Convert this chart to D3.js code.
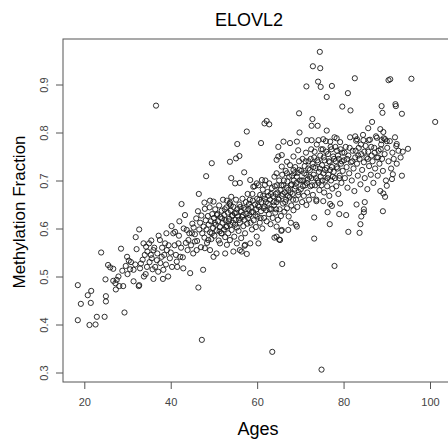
<!DOCTYPE html>
<html>
<head>
<meta charset="utf-8">
<script src="https://cdn.jsdelivr.net/npm/d3@7"></script>
<style>
  body { margin: 0; background: #fff; }
  text { font-family: "Liberation Sans", Arial, Helvetica, sans-serif; }
</style>
</head>
<body>
<div id="chart"></div>
<script>
// samples: [age, methylation fraction]
const youngSamples = [
  [18.5,0.482],[19.2,0.443],[20.8,0.461],[21.6,0.470],[21.5,0.445],[18.5,0.409],[21.2,0.399],[22.6,0.400],
  [22.9,0.416],[24.7,0.416],[25.0,0.459],[25.0,0.448],[23.9,0.550],[24.9,0.494],[25.5,0.524],[26.0,0.519],
  [26.7,0.516],[26.7,0.491],[27.2,0.486],[27.5,0.493],[27.9,0.500],[27.3,0.473],[29.3,0.425],[28.1,0.480],
  [29.0,0.480],[28.5,0.558],[29.9,0.541],[30.3,0.533],[30.8,0.530],[30.6,0.515],[31.4,0.514],[31.8,0.525],
  [32.1,0.557],[31.9,0.582],[32.7,0.598],[31.4,0.490],[32.6,0.480],[32.7,0.482],[30.0,0.505],[29.6,0.522],
  [28.8,0.512],[36.6,0.856]
];

const thirtiesSamples = [
  [32.9,0.517],[33.1,0.527],[33.7,0.569],[34.3,0.562],[34.6,0.552],[35.0,0.569],[35.4,0.545],[35.6,0.538],
  [36.0,0.555],[36.4,0.520],[36.8,0.534],[37.1,0.510],[37.5,0.576],[37.9,0.541],[38.3,0.514],[38.7,0.569],
  [39.1,0.555],[39.4,0.500],[39.8,0.538],[40.6,0.590],[41.0,0.593],[41.4,0.531],[41.8,0.569],[42.2,0.541],
  [42.5,0.651],[42.9,0.517],[43.3,0.628],[43.7,0.597],[44.1,0.576],[44.5,0.507],[44.9,0.590],[45.2,0.548],
  [45.6,0.573],[46.0,0.555],[46.4,0.477],[47.2,0.368],[33.5,0.535],[34.0,0.545],[34.2,0.505],[35.1,0.530],
  [35.8,0.515],[36.2,0.560],[36.9,0.548],[37.6,0.528],[38.0,0.560],[38.5,0.545],[38.9,0.525],[39.5,0.565],
  [40.0,0.550],[40.3,0.520],[40.9,0.565],[41.2,0.545],[41.9,0.585],[42.4,0.560],[42.8,0.540],[43.0,0.600],
  [43.5,0.570],[43.9,0.555],[44.3,0.590],[44.7,0.565],[45.0,0.610],[39.0,0.590],[40.2,0.605],[37.2,0.585],
  [35.5,0.575],[34.5,0.520],[38.2,0.495],[36.0,0.495],[33.8,0.500],[42.0,0.615],[41.5,0.520]
];

const midlifeSamples = [
  [45.3,0.602],[45.6,0.588],[45.9,0.621],[46.1,0.574],[46.3,0.636],[46.6,0.598],[46.8,0.612],[47.0,0.561],
  [47.1,0.627],[47.3,0.590],[47.6,0.604],[47.8,0.581],[47.9,0.641],[48.1,0.617],[48.3,0.598],[48.4,0.570],
  [48.6,0.626],[48.8,0.608],[49.0,0.644],[49.1,0.592],[49.3,0.615],[49.4,0.578],[49.6,0.630],[49.8,0.601],
  [50.0,0.622],[50.1,0.585],[50.3,0.640],[50.4,0.608],[50.6,0.596],[50.8,0.630],[50.9,0.615],[51.1,0.575],
  [51.2,0.648],[51.4,0.603],[51.5,0.624],[51.7,0.590],[51.8,0.637],[52.0,0.612],[52.1,0.660],[52.3,0.598],
  [52.4,0.628],[52.6,0.582],[52.7,0.617],[52.9,0.644],[53.0,0.605],[53.2,0.633],[53.3,0.590],[53.5,0.620],
  [53.6,0.651],[53.8,0.608],[53.9,0.637],[54.1,0.597],[54.2,0.626],[54.4,0.612],[54.5,0.645],[54.7,0.583],
  [54.8,0.632],[55.0,0.618],[55.1,0.660],[55.3,0.602],[55.4,0.640],[55.6,0.625],[55.7,0.595],[55.9,0.650],
  [56.0,0.612],[56.2,0.636],[56.3,0.580],[56.5,0.624],[56.6,0.662],[56.8,0.605],[56.9,0.643],[57.1,0.618],
  [57.2,0.590],[57.4,0.655],[57.5,0.630],[57.7,0.610],[57.8,0.672],[58.0,0.640],
  [48.2,0.709],[49.5,0.736],[53.7,0.739],[55.1,0.746],[55.9,0.751],[55.4,0.776],[57.0,0.717],[54.0,0.705],
  [54.9,0.694],[56.0,0.695],[46.5,0.672],[47.8,0.654],[49.1,0.658],[49.9,0.656],[53.0,0.658],[53.7,0.654],
  [54.0,0.666],[57.6,0.802],[47.5,0.514],[47.9,0.559],[49.9,0.541],[50.6,0.548],[52.6,0.548],[54.5,0.552],
  [56.4,0.552],[56.0,0.555],[57.6,0.547],[57.1,0.564],[51.4,0.569],[53.0,0.566],[53.7,0.576],[55.3,0.569],
  [57.2,0.566],[49.1,0.555],[48.7,0.576],[49.5,0.590],[51.8,0.590],
  [50.2,0.612],[50.7,0.628],[51.3,0.594],[51.9,0.621],[52.5,0.640],[52.8,0.603],[53.4,0.615],[53.9,0.648],
  [54.3,0.628],[54.9,0.608],[55.2,0.633],[55.8,0.618],[56.1,0.645],[56.7,0.628],[57.3,0.640],[57.9,0.622]
];

const sixtiesSamples = [
  [58.2,0.628],[58.3,0.660],[58.5,0.612],[58.6,0.645],[58.8,0.598],[58.9,0.672],[59.1,0.634],[59.2,0.617],
  [59.4,0.688],[59.5,0.650],[59.7,0.603],[59.8,0.640],[60.0,0.662],[60.1,0.625],[60.3,0.690],[60.4,0.645],
  [60.6,0.612],[60.7,0.670],[60.9,0.636],[61.0,0.655],[61.2,0.600],[61.3,0.681],[61.5,0.642],[61.6,0.622],
  [61.8,0.662],[61.9,0.700],[62.1,0.638],[62.2,0.615],[62.4,0.676],[62.5,0.652],[62.7,0.630],[62.8,0.694],
  [63.0,0.660],[63.1,0.609],[63.3,0.641],[63.4,0.684],[63.6,0.622],[63.7,0.667],[63.9,0.648],[64.0,0.708],
  [64.2,0.633],[64.3,0.672],[64.5,0.655],[64.6,0.690],[64.8,0.618],[64.9,0.662],[65.1,0.700],[65.2,0.640],
  [65.4,0.680],[65.5,0.626],[65.7,0.668],[65.8,0.712],[66.0,0.652],[66.1,0.690],[66.3,0.635],[66.4,0.675],
  [66.6,0.720],[66.7,0.660],[66.9,0.642],[67.0,0.698],[67.2,0.680],[67.3,0.625],[67.5,0.665],[67.6,0.732],
  [67.8,0.690],[67.9,0.648],[68.1,0.710],[68.2,0.672],[68.4,0.638],[68.5,0.700],[68.7,0.683],[68.8,0.728],
  [69.0,0.660],[69.1,0.695],[69.3,0.645],[69.4,0.716],[69.6,0.676],[69.7,0.740],[69.9,0.700],
  [60.9,0.778],[61.7,0.819],[62.2,0.824],[62.8,0.817],[64.9,0.770],[66.1,0.781],[67.6,0.778],[69.2,0.781],
  [64.9,0.750],[65.7,0.753],[66.9,0.739],[68.4,0.750],[69.5,0.763],[61.1,0.701],[61.8,0.691],[59.9,0.694],
  [58.4,0.701],[59.1,0.687],[64.5,0.743],[65.7,0.729],[64.5,0.715],[66.9,0.715],[68.4,0.722],[69.2,0.708],
  [64.5,0.604],[65.7,0.597],[67.2,0.597],[69.2,0.604],[64.5,0.583],[65.3,0.576],[60.3,0.569],[64.0,0.581],
  [65.1,0.577],[65.6,0.595],[69.0,0.608],[67.8,0.612],[65.8,0.526],[63.5,0.343],[58.4,0.569],[59.9,0.583],
  [58.1,0.651],[58.7,0.634],[59.0,0.658],[59.6,0.628],[60.2,0.648],[60.5,0.660],[60.8,0.622],[61.4,0.668],
  [61.7,0.646],[62.0,0.655],[62.6,0.668],[62.9,0.640],[63.2,0.672],[63.8,0.655],[64.1,0.688],[64.4,0.640],
  [64.7,0.675],[65.0,0.660],[65.6,0.690],[65.9,0.672],[66.2,0.700],[66.5,0.655],[66.8,0.685],[67.1,0.668],
  [67.4,0.708],[67.7,0.675],[68.0,0.692],[68.3,0.660],[68.6,0.715],[68.9,0.688],[69.5,0.670],[69.8,0.722]
];

const seventiesSamples = [
  [70.1,0.682],[70.2,0.720],[70.4,0.655],[70.5,0.745],[70.7,0.700],[70.8,0.668],[71.0,0.730],[71.1,0.690],
  [71.3,0.758],[71.4,0.712],[71.6,0.675],[71.7,0.702],[71.9,0.740],[72.0,0.660],[72.2,0.722],[72.3,0.688],
  [72.5,0.765],[72.6,0.705],[72.8,0.735],[72.9,0.670],[73.1,0.712],[73.2,0.748],[73.4,0.690],[73.5,0.726],
  [73.7,0.660],[73.8,0.775],[74.0,0.700],[74.1,0.738],[74.3,0.718],[74.4,0.680],[74.6,0.752],[74.7,0.708],
  [74.9,0.690],[75.0,0.732],[75.2,0.765],[75.3,0.715],[75.5,0.675],[75.6,0.742],[75.8,0.700],[75.9,0.782],
  [76.1,0.726],[76.2,0.688],[76.4,0.755],[76.5,0.712],[76.7,0.668],[76.8,0.738],[77.0,0.770],[77.1,0.700],
  [77.3,0.728],[77.4,0.683],[77.6,0.750],[77.7,0.718],[77.9,0.790],[78.0,0.705],[78.2,0.740],[78.3,0.688],
  [78.5,0.762],[78.6,0.725],[78.8,0.672],[78.9,0.745],[79.1,0.710],[79.2,0.780],[79.4,0.735],[79.5,0.695],
  [79.7,0.758],[79.8,0.720],
  [74.5,0.968],[72.9,0.938],[74.6,0.934],[74.1,0.906],[74.7,0.895],[71.4,0.896],[77.3,0.897],[76.1,0.874],
  [69.7,0.840],[72.8,0.828],[72.6,0.814],[74.0,0.814],[69.8,0.800],[76.1,0.804],[79.7,0.854],[73.2,0.579],
  [77.9,0.522],[73.2,0.623],[76.8,0.609],[79.0,0.630],[76.3,0.634],[76.9,0.651],[77.3,0.647],[79.2,0.652],
  [71.4,0.649],[73.7,0.657],[75.3,0.657],[74.9,0.306],[71.5,0.784],[72.6,0.784],[74.2,0.784],[75.3,0.786],
  [76.9,0.781],[78.4,0.788],
  [70.3,0.700],[70.6,0.688],[70.9,0.715],[71.2,0.740],[71.5,0.695],[71.8,0.725],[72.1,0.708],[72.4,0.745],
  [72.7,0.690],[73.0,0.728],[73.3,0.760],[73.6,0.705],[73.9,0.742],[74.2,0.695],[74.5,0.725],[74.8,0.765],
  [75.1,0.700],[75.4,0.748],[75.7,0.722],[76.0,0.760],[76.3,0.705],[76.6,0.740],[76.9,0.722],[77.2,0.765],
  [77.5,0.708],[77.8,0.745],[78.1,0.770],[78.4,0.728],[78.7,0.752],[79.0,0.705],[79.3,0.765],[79.6,0.740]
];

const elderSamples = [
  [80.1,0.742],[80.3,0.705],[80.5,0.770],[80.7,0.728],[80.9,0.685],[81.1,0.752],[81.3,0.715],[81.5,0.790],
  [81.7,0.738],[81.9,0.700],[82.1,0.762],[82.3,0.725],[82.5,0.678],[82.7,0.748],[82.9,0.783],[83.1,0.735],
  [83.3,0.710],[83.5,0.768],[83.7,0.745],[83.9,0.692],[84.1,0.755],[84.3,0.722],[84.5,0.795],[84.7,0.738],
  [84.9,0.705],[85.1,0.772],[85.3,0.748],[85.5,0.682],[85.7,0.760],[85.9,0.730],[86.1,0.785],[86.3,0.712],
  [86.5,0.752],[86.7,0.740],[86.9,0.695],[87.1,0.768],[87.3,0.725],[87.5,0.792],[87.7,0.748],[87.9,0.710],
  [88.1,0.762],[88.3,0.735],[88.5,0.678],[88.7,0.775],[88.9,0.745],[89.1,0.720],[89.3,0.788],[89.5,0.755],
  [89.8,0.700],[90.1,0.768],[90.4,0.740],[90.7,0.782],[91.0,0.725],[91.3,0.758],[91.6,0.745],[91.9,0.790],
  [92.3,0.735],[92.7,0.762],[93.2,0.748],
  [81.6,0.846],[81.0,0.882],[82.6,0.913],[88.8,0.855],[89.0,0.841],[92.0,0.859],[92.1,0.855],[93.5,0.839],
  [90.4,0.909],[90.8,0.911],[95.7,0.912],[86.6,0.822],[88.5,0.807],[89.2,0.801],[85.7,0.809],[101.2,0.822],
  [92.2,0.772],[92.3,0.776],[93.7,0.760],[94.9,0.766],[93.5,0.710],[91.4,0.713],[91.2,0.703],[90.0,0.689],
  [89.1,0.636],[83.9,0.609],[83.7,0.591],[81.1,0.593],[84.1,0.625],[84.7,0.634],[84.7,0.640],[84.9,0.655],
  [83.0,0.650],[80.6,0.628],[82.7,0.792],[83.1,0.786],[84.6,0.784],[85.8,0.784],[87.7,0.789],[88.8,0.784],
  [89.6,0.786],[90.0,0.782],[89.2,0.673],[89.6,0.666],
  [80.2,0.758],[80.8,0.745],[81.4,0.768],[82.0,0.740],[82.8,0.762],[83.4,0.752],[84.0,0.775],[84.8,0.760],
  [85.6,0.745],[86.4,0.770],[87.2,0.758],[88.0,0.748],[88.6,0.765]
];

const xTicks = [20, 40, 60, 80, 100];
const yTicks = [0.3, 0.4, 0.5, 0.6, 0.7, 0.8, 0.9];

const allSamples = youngSamples.concat(thirtiesSamples, midlifeSamples,
  sixtiesSamples, seventiesSamples, elderSamples);

// svg size and plot box (box runs off the right edge like the original)
let svgWidth = 448;
let svgHeight = 439;
let box = { left: 63, top: 39, right: 452, bottom: 382 };

let svg = d3.select('#chart')
  .append('svg')
  .attr('width', svgWidth)
  .attr('height', svgHeight);

svg.append('rect')
  .attr('width', svgWidth)
  .attr('height', svgHeight)
  .attr('fill', '#fff');

// scales
let x = d3.scaleLinear().domain([20, 100]).range([84.3, 430]);
let y = d3.scaleLinear().domain([0.3, 0.9]).range([372.5, 84.5]);

// points
svg.append('g')
  .selectAll('circle')
  .data(allSamples)
  .enter()
  .append('circle')
  .attr('cx', d => x(d[0]))
  .attr('cy', d => y(d[1]))
  .attr('r', 2.6)
  .attr('fill', 'none')
  .attr('stroke', '#1a1a1a')
  .attr('stroke-opacity', 0.9)
  .attr('stroke-width', 1);

// frame
svg.append('rect')
  .attr('x', box.left)
  .attr('y', box.top)
  .attr('width', box.right - box.left)
  .attr('height', box.bottom - box.top)
  .attr('fill', 'none')
  .attr('stroke', '#555')
  .attr('stroke-width', 1);

// x axis
let xAxis = svg.append('g')
  .attr('transform', `translate(0, ${box.bottom})`)
  .call(d3.axisBottom(x).tickValues(xTicks).tickSize(7).tickPadding(9));
xAxis.select('.domain').remove();
xAxis.selectAll('line').attr('stroke', '#555');
xAxis.selectAll('text')
  .attr('fill', '#444')
  .style('font-size', '11px')
  .style('font-family', '"Liberation Sans", Arial, sans-serif');

// y axis, labels turned parallel to the axis
let yAxis = svg.append('g')
  .attr('transform', `translate(${box.left}, 0)`)
  .call(d3.axisLeft(y).tickValues(yTicks).tickSize(7).tickFormat(d3.format('.1f')));
yAxis.select('.domain').remove();
yAxis.selectAll('line').attr('stroke', '#555');
yAxis.selectAll('text')
  .attr('x', 0)
  .attr('dy', null)
  .attr('transform', 'translate(-19, 0) rotate(-90)')
  .attr('text-anchor', 'middle')
  .attr('dominant-baseline', 'central')
  .attr('fill', '#444')
  .style('font-size', '11px')
  .style('font-family', '"Liberation Sans", Arial, sans-serif');

// titles
svg.append('text')
  .attr('x', 249)
  .attr('y', 26)
  .attr('text-anchor', 'middle')
  .style('font-size', '18px')
  .text('ELOVL2');

svg.append('text')
  .attr('x', 258)
  .attr('y', 435)
  .attr('text-anchor', 'middle')
  .style('font-size', '18px')
  .text('Ages');

svg.append('text')
  .attr('transform', 'translate(25, 212) rotate(-90)')
  .attr('text-anchor', 'middle')
  .style('font-size', '17px')
  .text('Methylation Fraction');
</script>
</body>
</html>
